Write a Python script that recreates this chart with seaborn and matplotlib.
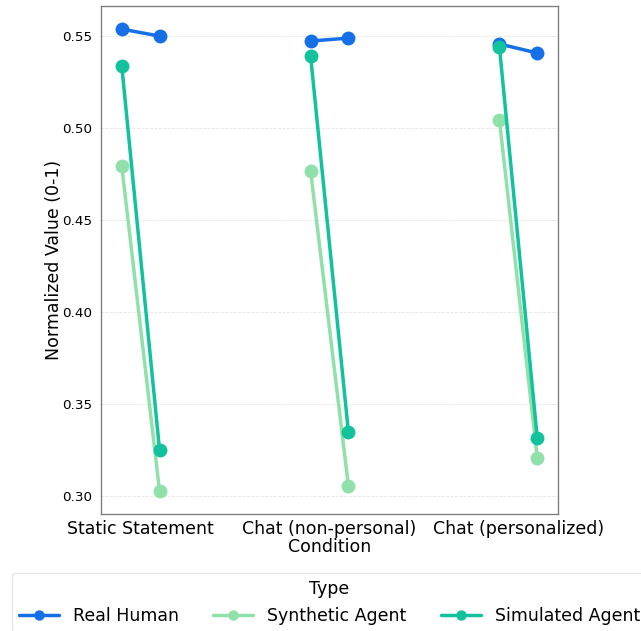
import matplotlib
matplotlib.use("Agg")
import matplotlib.pyplot as plt
import seaborn as sns
import pandas as pd
import numpy as np

conditions = ["Static Statement", "Chat (non-personal)", "Chat (personalized)"]
types = ["Real Human", "Synthetic Agent", "Simulated Agent"]
phases = ["Pre", "Post"]

real_human = [[0.5538, 0.5500], [0.5473, 0.5489], [0.5457, 0.5408]]
synthetic_agent = [[0.4793, 0.3027], [0.4766, 0.3054], [0.5043, 0.3207]]
simulated_agent = [[0.5337, 0.3250], [0.5391, 0.3348], [0.5440, 0.3315]]

colors = ["#1570e8", "#90e0aa", "#12c29c"]

series = {"Real Human": real_human, "Synthetic Agent": synthetic_agent,
          "Simulated Agent": simulated_agent}
offsets = {"Pre": -0.1, "Post": 0.1}
rows = []
for t in types:
    for ci, c in enumerate(conditions):
        for pi, p in enumerate(phases):
            rows.append({"Type": t, "Condition": c, "Phase": p,
                         "x": ci + offsets[p], "Value": series[t][ci][pi]})
df = pd.DataFrame(rows)

sns.set_style("white")
plt.rcParams["text.color"] = "black"
plt.rcParams["axes.labelcolor"] = "black"
plt.rcParams["xtick.color"] = "#808080"
plt.rcParams["ytick.color"] = "#808080"
plt.rcParams["xtick.labelcolor"] = "black"
plt.rcParams["ytick.labelcolor"] = "black"

fig = plt.figure(figsize=(6.41, 6.31), dpi=100)
ax = fig.add_axes([101/641, 1-514/631, (558-101)/641, (514-6)/631])

sns.lineplot(data=df, x="x", y="Value", hue="Type", hue_order=types,
             palette=colors, units="Condition", estimator=None,
             marker="o", markersize=10, markeredgewidth=0, linewidth=2.5,
             ax=ax)

ax.set_xticks(range(len(conditions)))
ax.set_xticklabels(conditions, fontsize=12.5)
ax.tick_params(axis="y", labelsize=9.7)
ax.tick_params(axis="both", direction="out", length=3, width=0.8)
ax.tick_params(axis="x", pad=1)
ax.set_xlabel("Condition", fontsize=12.5, labelpad=0)
ax.set_ylabel("Normalized Value (0-1)", fontsize=12.5, labelpad=-0.5)
ax.yaxis.grid(True, linestyle="--", color="#e6e6e6", linewidth=0.6)
ax.set_axisbelow(True)
for s in ax.spines.values():
    s.set_color("#808080")
    s.set_linewidth(1.0)

leg = ax.get_legend()
handles = leg.legend_handles
labels = [t.get_text() for t in leg.get_texts()]
leg.remove()
for h in handles:
    h.set_markersize(7.5)
fig.legend(handles, labels, title="Type", ncol=3, loc="upper center",
           bbox_to_anchor=(329.5/641, 1-573/631), borderaxespad=0,
           fontsize=12.5, title_fontsize=12.5, frameon=True,
           edgecolor="#e0e0e0", handlelength=2.3, columnspacing=2.0,
           borderpad=0.4, labelspacing=0.55)

fig.savefig("out.png", dpi=100)
